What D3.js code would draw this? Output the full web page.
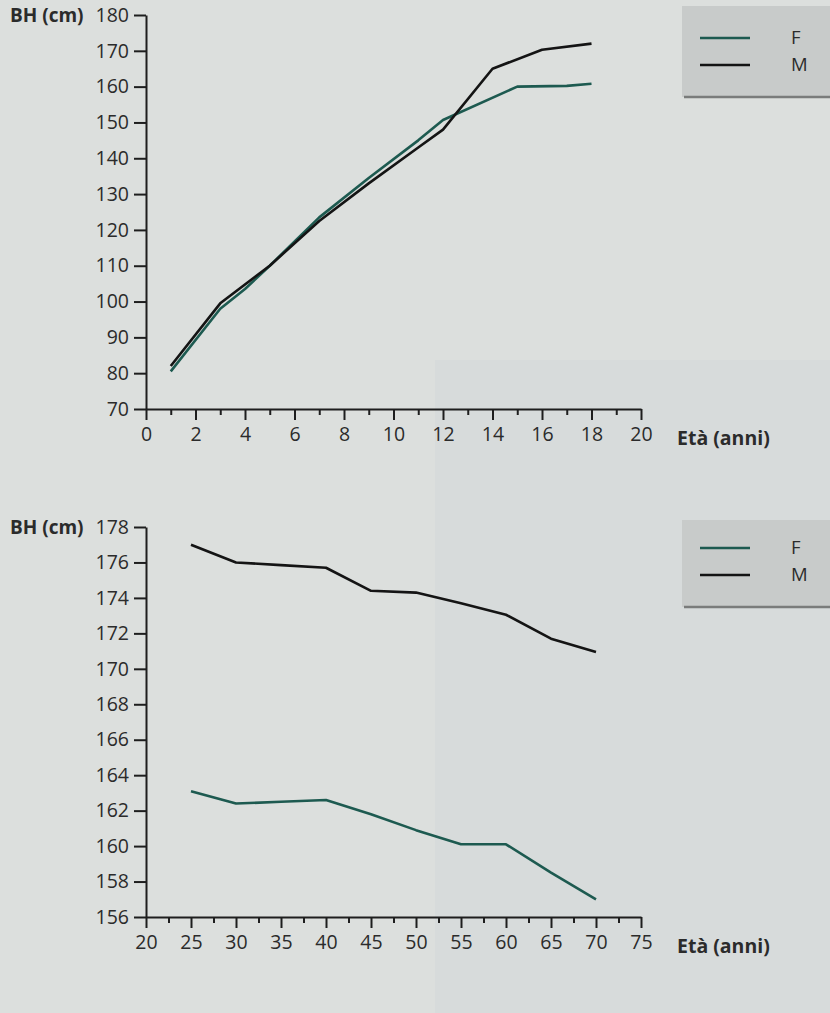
<!DOCTYPE html>
<html>
<head>
<meta charset="utf-8">
<script src="https://cdn.jsdelivr.net/npm/d3@7"></script>
<style>
  html, body { margin: 0; padding: 0; background: #dcdfdd; }
  svg { display: block; }
  text { font-family: "Open Sans", "Noto Sans", sans-serif; fill: #2b2b2b; }
</style>
</head>
<body>
<svg id="chart" width="830" height="1013"></svg>
<script>
// ---- Data: top chart (growth by age 0-20) ----
const topAgesF = [1, 3, 4, 5, 7, 9, 11, 12, 15, 17, 18];
const topValsF = [80.5, 98, 103.5, 110, 123.5, 134.5, 145, 150.7, 160, 160.2, 160.8];
const topAgesM = [1, 3, 5, 7, 9, 11, 12, 14, 16, 18];
const topValsM = [82, 99.5, 110, 122.5, 133, 143, 148, 165, 170.3, 172];
const topYTicks = [70, 80, 90, 100, 110, 120, 130, 140, 150, 160, 170, 180];
const topXTicks = [0, 2, 4, 6, 8, 10, 12, 14, 16, 18, 20];
const topXMinor = [1, 3, 5, 7, 9, 11, 13, 15, 17, 19];

// ---- Data: bottom chart (adult height by age 20-75) ----
const botAges = [25, 30, 35, 40, 45, 50, 55, 60, 65, 70];
const botValsF = [163.1, 162.4, 162.5, 162.6, 161.8, 160.9, 160.1, 160.1, 158.5, 157.0];
const botValsM = [177.0, 176.0, 175.85, 175.7, 174.4, 174.3, 173.7, 173.05, 171.7, 170.95];
const botYTicks = [156, 158, 160, 162, 164, 166, 168, 170, 172, 174, 176, 178];
const botXTicks = [20, 25, 30, 35, 40, 45, 50, 55, 60, 65, 70, 75];
const botXMinor = [22.5, 27.5, 32.5, 37.5, 42.5, 47.5, 52.5, 57.5, 62.5, 67.5, 72.5];

const seriesNames = ["F", "M"];
const colorF = "#1d5a50";
const colorM = "#141414";
const yLabel = "BH (cm)";
const xLabel = "Età (anni)";

const svg = d3.select("#chart");

// subtle scanned-page shading
svg.append("rect").attr("x", 0).attr("y", 0).attr("width", 830).attr("height", 1013).attr("fill", "#dcdfdd");
svg.append("rect").attr("x", 435).attr("y", 360).attr("width", 395).attr("height", 653).attr("fill", "#d6dadb").attr("opacity", 0.8);

function drawChart(cfg) {
  const g = svg.append("g");
  const x = d3.scaleLinear().domain(cfg.xDomain).range([146, 641]);
  const y = d3.scaleLinear().domain(cfg.yDomain).range(cfg.yRange);
  const y0 = cfg.yRange[0];

  // legend box
  const lg = g.append("g");
  lg.append("rect").attr("x", 682).attr("y", cfg.legendTop).attr("width", 148)
    .attr("height", cfg.legendBottom - cfg.legendTop).attr("fill", "#c8cbca");
  lg.append("line").attr("x1", 684).attr("x2", 830).attr("y1", cfg.legendBottom).attr("y2", cfg.legendBottom)
    .attr("stroke", "#7a7c7b").attr("stroke-width", 2.5);
  seriesNames.forEach((name, i) => {
    const ly = cfg.legendRows[i];
    lg.append("line").attr("x1", 700).attr("x2", 750).attr("y1", ly).attr("y2", ly)
      .attr("stroke", i === 0 ? colorF : colorM).attr("stroke-width", 2.5);
    lg.append("text").attr("x", 791).attr("y", ly).attr("dy", "0.35em")
      .style("font-size", "18.5px").text(name);
  });

  // y axis
  const yAxis = d3.axisLeft(y).tickValues(cfg.yTicks).tickSize(12).tickSizeOuter(0).tickPadding(5)
    .tickFormat(d3.format("d"));
  const ya = g.append("g").attr("transform", "translate(146,0)").call(yAxis);
  // x axis
  const xAxis = d3.axisBottom(x).tickValues(cfg.xTicks).tickSize(11).tickSizeOuter(0).tickPadding(7)
    .tickFormat(d3.format("d"));
  const xa = g.append("g").attr("transform", `translate(0,${y0})`).call(xAxis);
  const xm = d3.axisBottom(x).tickValues(cfg.xMinor).tickSize(6).tickSizeOuter(0).tickFormat("");
  const xma = g.append("g").attr("transform", `translate(0,${y0})`).call(xm);
  xma.select(".domain").remove();

  [ya, xa, xma].forEach(a => {
    a.selectAll("path.domain").attr("stroke", "#1e1e1e").attr("stroke-width", 2);
    a.selectAll(".tick line").attr("stroke", "#1e1e1e").attr("stroke-width", 2);
    a.selectAll(".tick text").style("font-size", "19.5px").attr("fill", "#2b2b2b")
      .style("font-family", '"Open Sans", sans-serif');
  });

  // axis titles
  g.append("text").attr("x", 10).attr("y", cfg.yRange[1]).attr("dy", "0.35em")
    .style("font-size", "19px").style("font-weight", "bold").text(yLabel);
  g.append("text").attr("x", 677).attr("y", y0 + 29).attr("dy", "0.35em")
    .style("font-size", "19.5px").style("font-weight", "bold").text(xLabel);

  // lines
  const line = d3.line().x(d => x(d[0])).y(d => y(d[1]));
  g.append("path").datum(d3.zip(cfg.agesF, cfg.valsF)).attr("d", line)
    .attr("fill", "none").attr("stroke", colorF).attr("stroke-width", 2.6).attr("stroke-linejoin", "round");
  g.append("path").datum(d3.zip(cfg.agesM, cfg.valsM)).attr("d", line)
    .attr("fill", "none").attr("stroke", colorM).attr("stroke-width", 2.6).attr("stroke-linejoin", "round");
}

drawChart({
  xDomain: [0, 20], yDomain: [70, 180], yRange: [409, 15],
  yTicks: topYTicks, xTicks: topXTicks, xMinor: topXMinor,
  agesF: topAgesF, valsF: topValsF, agesM: topAgesM, valsM: topValsM,
  legendTop: 6, legendBottom: 97, legendRows: [38, 65]
});

drawChart({
  xDomain: [20, 75], yDomain: [156, 178], yRange: [917, 527],
  yTicks: botYTicks, xTicks: botXTicks, xMinor: botXMinor,
  agesF: botAges, valsF: botValsF, agesM: botAges, valsM: botValsM,
  legendTop: 520, legendBottom: 607, legendRows: [548, 575]
});
</script>
</body>
</html>
